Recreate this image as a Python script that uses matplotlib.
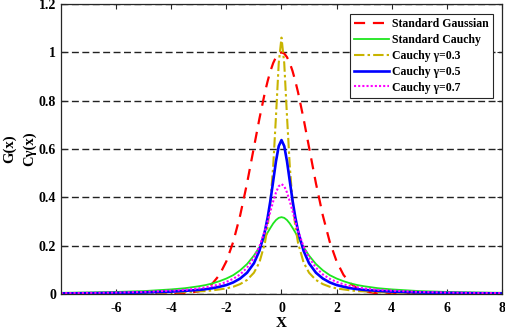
import numpy as np
import matplotlib
matplotlib.use('Agg')
import matplotlib.pyplot as plt

# values for x >= 0 (the curves are symmetric about x = 0)
x_half = [0, 0.1, 0.2, 0.3, 0.4, 0.5, 0.6, 0.8, 1.0, 1.25, 1.5, 1.75, 2.0,
          2.25, 2.5, 2.75, 3.0, 3.5, 4.0, 5.0, 6.0, 7.0, 8.0]
gauss_half = [1.0, 0.995, 0.980, 0.956, 0.923, 0.882, 0.835, 0.726, 0.607, 0.458,
              0.325, 0.216, 0.135, 0.079, 0.044, 0.023, 0.011, 0.002, 0.0003,
              0, 0, 0, 0]
cauchy1_half = [0.318, 0.315, 0.306, 0.292, 0.274, 0.255, 0.234, 0.194, 0.159, 0.124,
                0.098, 0.078, 0.064, 0.053, 0.044, 0.037, 0.032, 0.024, 0.019,
                0.012, 0.0086, 0.0064, 0.0049]
cauchy03_half = [1.061, 0.955, 0.735, 0.531, 0.382, 0.281, 0.212, 0.131, 0.088, 0.058,
                 0.041, 0.030, 0.023, 0.019, 0.015, 0.012, 0.011, 0.0077, 0.0059,
                 0.0038, 0.0026, 0.0019, 0.0015]
cauchy05_half = [0.637, 0.612, 0.549, 0.468, 0.388, 0.318, 0.261, 0.179, 0.127, 0.088,
                 0.064, 0.048, 0.037, 0.030, 0.024, 0.020, 0.017, 0.013, 0.0098,
                 0.0063, 0.0044, 0.0032, 0.0025]
cauchy07_half = [0.455, 0.446, 0.420, 0.384, 0.343, 0.301, 0.262, 0.197, 0.150, 0.109,
                 0.081, 0.063, 0.050, 0.040, 0.033, 0.028, 0.023, 0.017, 0.014,
                 0.0087, 0.0061, 0.0045, 0.0035]

xticks = [-6, -4, -2, 0, 2, 4, 6, 8]
yticks = [0, 0.2, 0.4, 0.6, 0.8, 1.0, 1.2]
ytick_labels = ['0', '0.2', '0.4', '0.6', '0.8', '1', '1.2']


def mirror(v, sign=1):
    v = np.asarray(v, dtype=float)
    return np.concatenate([sign * v[:0:-1], v])


x = mirror(x_half, -1)

plt.rcParams['font.family'] = ['Liberation Serif', 'DejaVu Serif']
plt.rcParams['font.weight'] = 'bold'

fig = plt.figure(figsize=(5.05, 3.29), dpi=100)
ax = fig.add_axes([0.1208, 0.1064, 0.8732, 0.8814])

ax.plot(x, mirror(gauss_half), color='#ff0000', ls=(0, (5, 3.5)), lw=1.6,
        label='Standard Gaussian')
ax.plot(x, mirror(cauchy1_half), color='#1ee61e', ls='-', lw=1.3,
        label='Standard Cauchy')
ax.plot(x, mirror(cauchy03_half), color='#c8b400', ls=(0, (5, 1.5, 1.2, 1.5)), lw=1.5,
        label='Cauchy γ=0.3')
ax.plot(x, mirror(cauchy05_half), color='#0000ff', ls='-', lw=1.9,
        label='Cauchy γ=0.5')
ax.plot(x, mirror(cauchy07_half), color='#ff00ff', ls=(0, (1, 1)), lw=1.5,
        label='Cauchy γ=0.7')

ax.set_xlim(-8, 8)
ax.set_ylim(0, 1.2)
ax.set_xticks(xticks)
ax.set_xticklabels([str(t) for t in xticks])
ax.set_yticks(yticks)
ax.set_yticklabels(ytick_labels)
ax.grid(axis='y', color='#222222', ls=(0, (5, 2.5)), lw=1.0)
ax.set_axisbelow(True)

ax.tick_params(direction='in', top=True, right=True, length=3.5, width=0.8,
               labelsize=10, colors='#262626', labelcolor='black')
ax.tick_params(axis='x', pad=6)
for s in ax.spines.values():
    s.set_color('#262626')
    s.set_linewidth(0.9)

ax.set_xlabel('X', fontsize=11, fontweight='bold', labelpad=1)
ax.set_ylabel('G(x)\nCγ(x)', fontsize=10.5, fontweight='bold', linespacing=1.6)
ax.yaxis.set_label_coords(-0.057, 0.5)

leg = ax.legend(loc='upper right', bbox_to_anchor=(0.98, 0.966), borderaxespad=0,
                fontsize=8.5, handlelength=2.95, handletextpad=0.3, borderpad=0.35,
                labelspacing=0.33, fancybox=False, framealpha=1)
leg.get_frame().set_edgecolor('#262626')
leg.get_frame().set_linewidth(0.8)

fig.savefig('out.png', dpi=100)
